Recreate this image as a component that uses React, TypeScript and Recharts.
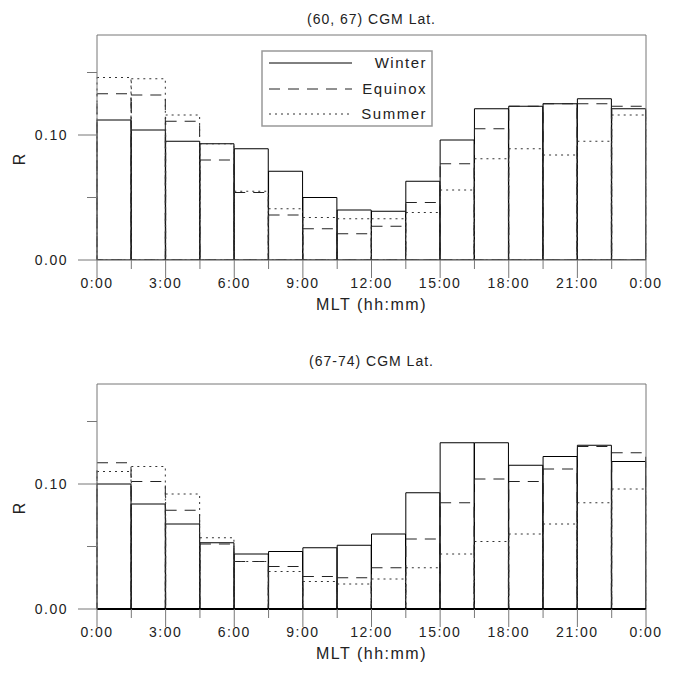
import { Bar, ComposedChart, Label, Line, ReferenceLine, XAxis, YAxis } from "recharts";

// 16 MLT bins of 1.5 h each
const bins = ["0:00", "1:30", "3:00", "4:30", "6:00", "7:30", "9:00", "10:30", "12:00", "13:30", "15:00", "16:30", "18:00", "19:30", "21:00", "22:30"];
const binMid = [0.75, 2.25, 3.75, 5.25, 6.75, 8.25, 9.75, 11.25, 12.75, 14.25, 15.75, 17.25, 18.75, 20.25, 21.75, 23.25];

// (60, 67) CGM Lat.
const winterLow = [0.112, 0.104, 0.095, 0.093, 0.089, 0.071, 0.05, 0.04, 0.039, 0.063, 0.096, 0.121, 0.123, 0.125, 0.129, 0.121];
const equinoxLow = [0.133, 0.132, 0.111, 0.08, 0.054, 0.036, 0.025, 0.021, 0.027, 0.046, 0.077, 0.105, 0.123, 0.125, 0.125, 0.123];
const summerLow = [0.146, 0.145, 0.116, 0.093, 0.055, 0.041, 0.034, 0.033, 0.033, 0.038, 0.056, 0.081, 0.089, 0.084, 0.095, 0.116];

// (67-74) CGM Lat.
const winterHigh = [0.1, 0.084, 0.068, 0.053, 0.044, 0.046, 0.049, 0.051, 0.06, 0.093, 0.133, 0.133, 0.115, 0.122, 0.131, 0.118];
const equinoxHigh = [0.117, 0.102, 0.079, 0.052, 0.038, 0.034, 0.026, 0.025, 0.033, 0.056, 0.085, 0.104, 0.102, 0.112, 0.13, 0.125];
const summerHigh = [0.11, 0.114, 0.092, 0.057, 0.038, 0.03, 0.022, 0.02, 0.024, 0.033, 0.044, 0.054, 0.06, 0.068, 0.085, 0.096];

const hourTicks = [0, 1.5, 3, 4.5, 6, 7.5, 9, 10.5, 12, 13.5, 15, 16.5, 18, 19.5, 21, 22.5, 24];
const rTicks = [0, 0.05, 0.1, 0.15];

const FONT = "'Liberation Sans', Arial, Helvetica, sans-serif";
const AXIS_GREY = "#777";

const SERIES = [
  { key: "winter", label: "Winter", stroke: "#000", dash: undefined as string | undefined },
  { key: "equinox", label: "Equinox", stroke: "#222", dash: "11 8" },
  { key: "summer", label: "Summer", stroke: "#333", dash: "2 4" },
];

function HourTick({ x, y, payload }: any) {
  const v = payload.value as number;
  const major = v % 3 === 0;
  return (
    <g>
      <line x1={x} x2={x} y1={y} y2={y + (major ? 18 : 9)} stroke={AXIS_GREY} />
      {major && (
        <text x={x} y={y + 28} textAnchor="middle" fontSize={14} letterSpacing={1.5} fill="#222" fontFamily={FONT}>
          {`${v % 24}:00`}
        </text>
      )}
    </g>
  );
}

function RTick({ x, y, payload }: any) {
  const v = payload.value as number;
  const major = Math.round(v * 100) % 10 === 0;
  return (
    <g>
      <line x1={x - (major ? 19 : 10)} x2={x} y1={y} y2={y} stroke={AXIS_GREY} />
      {major && (
        <text x={x - 29} y={y} dy="0.35em" textAnchor="end" fontSize={14} letterSpacing={1.5} fill="#222" fontFamily={FONT}>
          {v.toFixed(2)}
        </text>
      )}
    </g>
  );
}

function Panel({
  title,
  titleY,
  winter,
  equinox,
  summer,
  top,
  zeroColor,
  zeroWidth,
  legend,
}: {
  title: string;
  titleY: number;
  winter: number[];
  equinox: number[];
  summer: number[];
  top: number;
  zeroColor: string;
  zeroWidth: number;
  legend?: boolean;
}) {
  const data = bins.map((bin, i) => ({ bin, mid: binMid[i], winter: winter[i], equinox: equinox[i], summer: summer[i] }));

  return (
    <div style={{ position: "absolute", left: 0, top, width: 677, height: 340 }}>
      <ComposedChart
        width={677}
        height={340}
        data={data}
        margin={{ top: 35, right: 31, left: 37, bottom: 0 }}
        barCategoryGap={0}
        barGap={0}
        style={{ position: "absolute", left: 0, top: 0 }}
      >
        {SERIES.map((s) => (
          <XAxis key={s.key} xAxisId={s.key} dataKey="bin" type="category" hide height={0} />
        ))}
        <XAxis
          xAxisId="t"
          dataKey="mid"
          type="number"
          domain={[0, 24]}
          ticks={hourTicks}
          allowDataOverflow
          height={80}
          tickSize={0}
          tickMargin={0}
          tickLine={false}
          tick={<HourTick />}
          axisLine={{ stroke: zeroColor, strokeWidth: zeroWidth }}
          interval={0}
        >
          <Label
            content={({ viewBox }: any) => (
              <text
                x={viewBox.x + viewBox.width / 2}
                y={viewBox.y + 50}
                textAnchor="middle"
                fontSize={16}
                letterSpacing={1.5}
                fill="#222"
                fontFamily={FONT}
              >
                MLT (hh:mm)
              </text>
            )}
          />
        </XAxis>
        <YAxis
          type="number"
          domain={[0, 0.18]}
          ticks={rTicks}
          allowDataOverflow
          width={60}
          tickSize={0}
          tickMargin={0}
          tickLine={false}
          tick={<RTick />}
          axisLine={{ stroke: AXIS_GREY }}
          interval={0}
        >
          <Label
            content={({ viewBox }: any) => {
              const cy = viewBox.y + viewBox.height / 2 + 12;
              return (
                <text
                  x={19}
                  y={cy}
                  transform={`rotate(-90 19 ${cy})`}
                  textAnchor="middle"
                  dy="0.35em"
                  fontSize={16}
                  fill="#222"
                  fontFamily={FONT}
                >
                  R
                </text>
              );
            }}
          />
        </YAxis>
        <ReferenceLine xAxisId="t" y={0.18} stroke={AXIS_GREY} ifOverflow="extendDomain" />
        <ReferenceLine xAxisId="t" x={24} stroke={AXIS_GREY} />
        {SERIES.map((s) => (
          <Bar
            key={s.key}
            xAxisId={s.key}
            dataKey={s.key}
            fill="none"
            stroke={s.stroke}
            strokeWidth={1}
            strokeDasharray={s.dash}
            isAnimationActive={false}
          />
        ))}
        <Line xAxisId="t" dataKey="winter" stroke="none" dot={false} activeDot={false} isAnimationActive={false} />
      </ComposedChart>
      <svg style={{ position: "absolute", left: 0, top: 0, pointerEvents: "none" }} width={677} height={340}>
        <text x={371.5} y={titleY} textAnchor="middle" fontSize={14} letterSpacing={1} fill="#222" fontFamily={FONT}>
          {title}
        </text>
        {legend && (
          <g>
            <rect x={262} y={51} width={170} height={75} fill="#fff" stroke="#999" strokeWidth={1.5} />
            {SERIES.map((s, i) => {
              const ly = [63, 89, 114][i];
              return (
                <g key={s.key}>
                  <line x1={269} x2={352} y1={ly} y2={ly} stroke={s.stroke} strokeWidth={1} strokeDasharray={s.dash} />
                  <text x={427} y={ly} dy="0.35em" textAnchor="end" fontSize={15} letterSpacing={1.5} fill="#222" fontFamily={FONT}>
                    {s.label}
                  </text>
                </g>
              );
            })}
          </g>
        )}
      </svg>
    </div>
  );
}

export default function App() {
  return (
    <div style={{ position: "absolute", left: 0, top: 0, width: 677, height: 676, overflow: "hidden", background: "#fff" }}>
      <Panel
        title="(60, 67) CGM Lat."
        titleY={24}
        winter={winterLow}
        equinox={equinoxLow}
        summer={summerLow}
        top={0}
        zeroColor="#555"
        zeroWidth={1}
        legend
      />
      <Panel
        title="(67-74) CGM Lat."
        titleY={17}
        winter={winterHigh}
        equinox={equinoxHigh}
        summer={summerHigh}
        top={349}
        zeroColor="#000"
        zeroWidth={2}
      />
    </div>
  );
}
